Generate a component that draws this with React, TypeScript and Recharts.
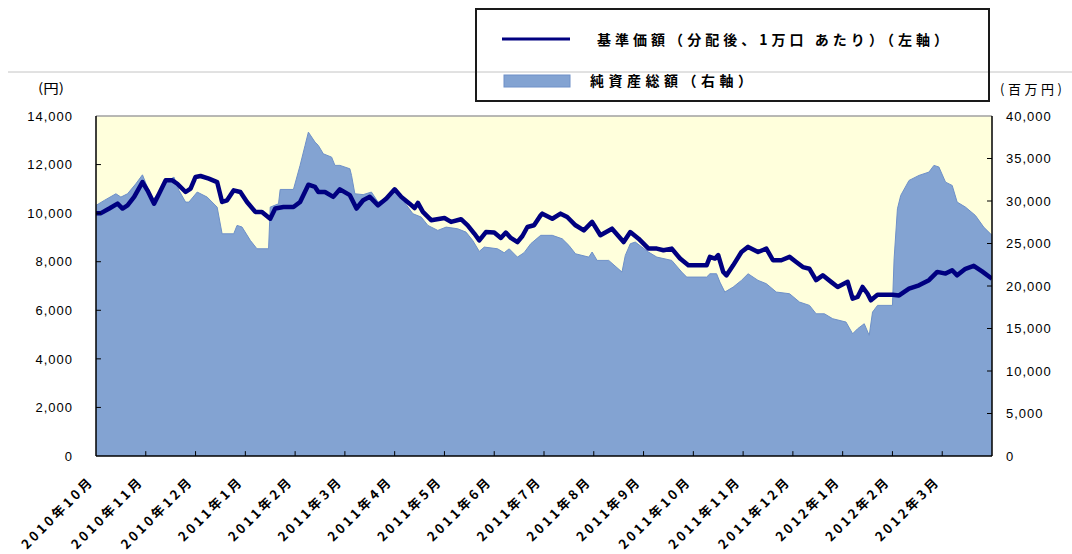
import React from 'react';
import { ComposedChart, Area, Line, XAxis, YAxis, CartesianGrid, ReferenceLine } from 'recharts';

const monthLabels = [
  '2010年10月', '2010年11月', '2010年12月', '2011年1月', '2011年2月', '2011年3月',
  '2011年4月', '2011年5月', '2011年6月', '2011年7月', '2011年8月', '2011年9月',
  '2011年10月', '2011年11月', '2011年12月', '2012年1月', '2012年2月', '2012年3月',
];

const navName = '基準価額（分配後、1万口 あたり）（左軸）';
const assetName = '純資産総額（右軸）';
const leftUnit = '(円)';
const rightUnit = '(百万円)';

const navDates = [
  '2010-10-01', '2010-10-04', '2010-10-09', '2010-10-14', '2010-10-17', '2010-10-20', '2010-10-24', '2010-10-29',
  '2010-11-02', '2010-11-06', '2010-11-09', '2010-11-13', '2010-11-17', '2010-11-20', '2010-11-25', '2010-11-28',
  '2010-12-01', '2010-12-04', '2010-12-09', '2010-12-14', '2010-12-17', '2010-12-20', '2010-12-24', '2010-12-28',
  '2011-01-02', '2011-01-07', '2011-01-11', '2011-01-16', '2011-01-19', '2011-01-24', '2011-01-30',
  '2011-02-04', '2011-02-09', '2011-02-13', '2011-02-15', '2011-02-19', '2011-02-24', '2011-02-28',
  '2011-03-04', '2011-03-08', '2011-03-12', '2011-03-16', '2011-03-21', '2011-03-26',
  '2011-04-01', '2011-04-05', '2011-04-10', '2011-04-13', '2011-04-15', '2011-04-18', '2011-04-23',
  '2011-05-01', '2011-05-05', '2011-05-11', '2011-05-15', '2011-05-19', '2011-05-22', '2011-05-26',
  '2011-06-01', '2011-06-05', '2011-06-08', '2011-06-11', '2011-06-15', '2011-06-18', '2011-06-21', '2011-06-25', '2011-06-29', '2011-06-30',
  '2011-07-06', '2011-07-11', '2011-07-15', '2011-07-20', '2011-07-25', '2011-07-30',
  '2011-08-05', '2011-08-12', '2011-08-19', '2011-08-23', '2011-08-28',
  '2011-09-04', '2011-09-09', '2011-09-13', '2011-09-18', '2011-09-23', '2011-09-28',
  '2011-10-09', '2011-10-11', '2011-10-14', '2011-10-16', '2011-10-19', '2011-10-21', '2011-10-25', '2011-10-30',
  '2011-11-04', '2011-11-10', '2011-11-15', '2011-11-19', '2011-11-24', '2011-11-29',
  '2011-12-03', '2011-12-07', '2011-12-11', '2011-12-15', '2011-12-19', '2011-12-24', '2011-12-28',
  '2012-01-04', '2012-01-07', '2012-01-10', '2012-01-13', '2012-01-16', '2012-01-18', '2012-01-22',
  '2012-02-01', '2012-02-05', '2012-02-11', '2012-02-17', '2012-02-23', '2012-02-28',
  '2012-03-03', '2012-03-07', '2012-03-10', '2012-03-15', '2012-03-20', '2012-03-25', '2012-03-31',
];
const navValues = [
  10000, 10000, 10190, 10390, 10190, 10320, 10670, 11280,
  10940, 10390, 10800, 11350, 11350, 11210, 10870, 11010,
  11490, 11530, 11420, 11280, 10460, 10530, 10940, 10870,
  10460, 10050, 10050, 9770, 10190, 10250, 10250,
  10460, 11170, 11080, 10870, 10870, 10670, 10980,
  10740, 10190, 10530, 10670, 10320, 10600,
  10980, 10670, 10390, 10210, 10420, 10050, 9710,
  9800, 9640, 9750, 9500, 9160, 8880, 9220,
  9200, 8980, 9200, 8980, 8810, 9060, 9430, 9500, 9910, 9980,
  9770, 9980, 9840, 9500, 9290, 9640,
  9090, 9360, 8810, 9220, 8950,
  8540, 8540, 8470, 8540, 8130, 7850,
  7850, 8200, 8130, 8270, 7580, 7440, 7850, 8400,
  8610, 8400, 8540, 8060, 8060, 8200,
  7990, 7780, 7710, 7240, 7440, 7170, 6960,
  7170, 6480, 6550, 6960, 6680, 6410, 6640,
  6640, 6610, 6890, 7030, 7240, 7580,
  7510, 7650, 7440, 7710, 7830, 7600, 7300,
];

const assetDates = [
  '2010-10-01', '2010-10-06', '2010-10-13', '2010-10-16', '2010-10-20', '2010-10-25', '2010-10-29',
  '2010-11-02', '2010-11-05', '2010-11-09', '2010-11-13', '2010-11-18', '2010-11-21', '2010-11-25', '2010-11-27',
  '2010-12-02', '2010-12-08', '2010-12-14', '2010-12-17', '2010-12-24', '2010-12-26', '2010-12-29',
  '2011-01-04', '2011-01-08', '2011-01-15', '2011-01-16', '2011-01-21', '2011-01-22', '2011-01-30',
  '2011-02-04', '2011-02-07', '2011-02-09', '2011-02-13', '2011-02-15', '2011-02-18', '2011-02-23', '2011-02-25', '2011-02-28',
  '2011-03-04', '2011-03-05', '2011-03-07', '2011-03-12', '2011-03-17', '2011-03-21', '2011-03-27',
  '2011-04-01', '2011-04-06', '2011-04-12', '2011-04-17', '2011-04-21', '2011-04-27',
  '2011-05-02', '2011-05-09', '2011-05-14', '2011-05-18', '2011-05-22', '2011-05-25',
  '2011-06-03', '2011-06-07', '2011-06-10', '2011-06-15', '2011-06-19', '2011-06-23', '2011-06-29',
  '2011-07-06', '2011-07-12', '2011-07-16', '2011-07-20', '2011-07-28', '2011-07-30',
  '2011-08-03', '2011-08-10', '2011-08-18', '2011-08-20', '2011-08-23', '2011-08-26', '2011-08-30',
  '2011-09-04', '2011-09-09', '2011-09-18', '2011-09-24', '2011-09-27',
  '2011-10-09', '2011-10-11', '2011-10-15', '2011-10-17', '2011-10-20', '2011-10-25', '2011-10-30',
  '2011-11-04', '2011-11-10', '2011-11-15', '2011-11-21', '2011-11-29',
  '2011-12-05', '2011-12-11', '2011-12-15', '2011-12-20', '2011-12-25',
  '2012-01-03', '2012-01-07', '2012-01-10', '2012-01-14', '2012-01-17', '2012-01-19', '2012-01-22',
  '2012-02-01', '2012-02-02', '2012-02-04', '2012-02-06', '2012-02-11', '2012-02-17', '2012-02-23', '2012-02-26', '2012-02-29',
  '2012-03-03', '2012-03-07', '2012-03-10', '2012-03-15', '2012-03-21', '2012-03-26', '2012-03-31',
];
const assetValues = [
  29480, 30070, 30850, 30460, 30850, 32020, 33080,
  31630, 30070, 31050, 32220, 32810, 31250, 29870, 29870,
  31050, 30460, 29280, 26140, 26140, 27130, 26940,
  25370, 24380, 24380, 29280, 29670, 31360, 31360,
  34190, 36540, 38100, 36930, 36540, 35550, 35160, 34190, 34190,
  33790, 33010, 30850, 30750, 31050, 29870, 30460,
  31050, 30070, 28500, 28110, 27130, 26540,
  26930, 26730, 26340, 25370, 24070, 24580,
  24380, 23910, 24380, 23400, 23920, 24970, 25960,
  25960, 25550, 24780, 23790, 23400, 24000,
  23010, 23010, 21640, 23600, 24970, 25170, 24580,
  23990, 23400, 23010, 21640, 21050,
  21050, 21440, 21440, 20460, 19290, 19870, 20660,
  21440, 20660, 20270, 19290, 19090,
  18110, 17720, 16730, 16730, 16150,
  15760, 14380, 14970, 15560, 14190, 16930, 17720,
  17720, 23200, 29080, 30660, 32420, 33010, 33400, 34190, 34000,
  32220, 31830, 29870, 29280, 28300, 26930, 25960,
];

const leftTicks = [0, 2000, 4000, 6000, 8000, 10000, 12000, 14000];
const rightTicks = [0, 5000, 10000, 15000, 20000, 25000, 30000, 35000, 40000];

const datePos = (s: string) => {
  const [y, m, d] = s.split('-').map(Number);
  return (y - 2010) * 12 + (m - 10) + (d - 1) / 30;
};

const rowMap = new Map<number, any>();
navDates.forEach((d, i) => {
  const p = datePos(d);
  const r = rowMap.get(p) || { pos: p };
  r.nav = navValues[i];
  rowMap.set(p, r);
});
assetDates.forEach((d, i) => {
  const p = datePos(d);
  const r = rowMap.get(p) || { pos: p };
  r.asset = assetValues[i];
  rowMap.set(p, r);
});
const data = Array.from(rowMap.values()).sort((a, b) => a.pos - b.pos);

const fmt = (v: number) => v.toLocaleString('en-US');

const LeftTick = (props: any) => {
  const { x, y, payload } = props;
  return (
    <text x={x} y={y} dy="0.36em" textAnchor="end" fontFamily="'Liberation Sans', Arial, sans-serif"
      fontSize={13} letterSpacing={1} fill="#000">{fmt(payload.value)}</text>
  );
};
const RightTick = (props: any) => {
  const { x, y, payload } = props;
  return (
    <text x={x} y={y} dy="0.36em" textAnchor="start" fontFamily="'Liberation Sans', Arial, sans-serif"
      fontSize={13} letterSpacing={1} fill="#000">{fmt(payload.value)}</text>
  );
};
const MonthTick = (props: any) => {
  const { x, y, payload } = props;
  const tx = x - 26;
  const ty = y + 26;
  return (
    <text x={tx} y={ty} transform={`rotate(-45 ${tx} ${ty})`} textAnchor="end"
      fontFamily="'Noto Sans CJK JP', sans-serif" fontSize={13} fontWeight="bold" letterSpacing={3} fill="#000">
      {monthLabels[Math.floor(payload.value)]}
    </text>
  );
};

export default function App() {
  const n = monthLabels.length;
  return (
    <div style={{ position: 'absolute', left: 0, top: 0, width: 1072, height: 554, background: '#fff' }}>
      <ComposedChart width={1072} height={554} data={data} margin={{ top: 116, right: 20, bottom: 8, left: 36 }}>
        <CartesianGrid yAxisId="left" horizontal={false} vertical={false} fill="#FFFFDC" stroke="none" />
        <XAxis dataKey="pos" type="number" domain={[0, n]} allowDataOverflow
          ticks={monthLabels.map((_, i) => i + 0.5)} interval={0} tick={<MonthTick />}
          tickLine={false} tickSize={0} tickMargin={0} height={90} axisLine={{ stroke: '#000', strokeWidth: 1.5 }} />
        <YAxis yAxisId="left" domain={[0, 14000]} ticks={leftTicks} interval={0} width={60}
          tickLine={false} tickSize={0} tickMargin={23} tick={<LeftTick />} axisLine={{ stroke: '#000', strokeWidth: 1.5 }} />
        <YAxis yAxisId="right" orientation="right" domain={[0, 40000]} ticks={rightTicks} interval={0} width={60}
          tickLine={false} tickSize={0} tickMargin={14} tick={<RightTick />} axisLine={{ stroke: '#000', strokeWidth: 1.5 }} />
        <Area yAxisId="right" dataKey="asset" name={assetName} type="linear" connectNulls
          fill="#83A3D2" fillOpacity={1} stroke="#6E90C8" strokeWidth={1} dot={false} activeDot={false}
          isAnimationActive={false} />
        <Line yAxisId="left" dataKey="nav" name={navName} type="linear" connectNulls
          stroke="#000080" strokeWidth={4.5} strokeLinejoin="round" dot={false} activeDot={false}
          isAnimationActive={false} />
        <ReferenceLine yAxisId="left" y={14000} stroke="#A0A0A0" strokeWidth={1.5} />
        {leftTicks.slice(1, -1).map((v) => (
          <ReferenceLine key={'lt' + v} yAxisId="left" segment={[{ x: 0, y: v }, { x: 0.1, y: v }]} stroke="#000" />
        ))}
        {rightTicks.slice(1, -1).map((v) => (
          <ReferenceLine key={'rt' + v} yAxisId="right" segment={[{ x: n - 0.1, y: v }, { x: n, y: v }]} stroke="#000" />
        ))}
        {monthLabels.slice(1).map((_, i) => (
          <ReferenceLine key={'bt' + i} yAxisId="left" segment={[{ x: i + 1, y: 0 }, { x: i + 1, y: 200 }]} stroke="#000" />
        ))}
      </ComposedChart>
      <svg width={1072} height={554} style={{ position: 'absolute', left: 0, top: 0, pointerEvents: 'none' }}>
        <line x1={8} y1={72} x2={1072} y2={72} stroke="#C4C4C4" strokeWidth={1} />
        <text x={38} y={93} textLength={26} lengthAdjust="spacingAndGlyphs" fontFamily="'Noto Sans CJK JP', sans-serif"
          fontSize={13} fill="#000">{leftUnit}</text>
        <text x={1000} y={94} textLength={62} lengthAdjust="spacing" fontFamily="'Noto Sans CJK JP', sans-serif"
          fontSize={13} fill="#000">{rightUnit}</text>
        <rect x={476} y={9} width={513} height={92} fill="none" stroke="#1a1a1a" strokeWidth={2} />
        <line x1={502} y1={39} x2={570} y2={39} stroke="#000080" strokeWidth={3} />
        <text x={597} y={45} textLength={351} lengthAdjust="spacing" fontFamily="'Noto Sans CJK JP', sans-serif"
          fontSize={14} fontWeight="bold" fill="#000">{navName}</text>
        <rect x={504} y={75} width={66} height={12} fill="#83A3D2" stroke="#6E90C8" strokeWidth={1} />
        <text x={590} y={86} textLength={162} lengthAdjust="spacing" fontFamily="'Noto Sans CJK JP', sans-serif"
          fontSize={14} fontWeight="bold" fill="#000">{assetName}</text>
      </svg>
    </div>
  );
}
